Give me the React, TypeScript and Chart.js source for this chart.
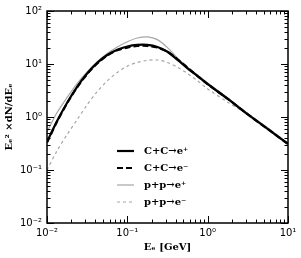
import React, { useEffect, useRef } from "react";
import { Chart, registerables } from "chart.js";

Chart.register(...registerables);

const energies = [0.01, 0.0133, 0.0178, 0.0237, 0.0316, 0.0422, 0.0562, 0.075, 0.1, 0.133, 0.178, 0.237, 0.316, 0.422, 0.562, 0.75, 1, 1.78, 3.16, 5.62, 10];
const ccPositron = [0.34, 0.83, 1.86, 3.72, 6.61, 10.5, 14.8, 18.6, 21.4, 22.9, 22.9, 20.9, 17.0, 12.0, 8.3, 5.9, 4.17, 2.19, 1.12, 0.59, 0.31];
const ccElectron = [0.33, 0.81, 1.82, 3.63, 6.46, 10.2, 14.5, 18.2, 20.4, 21.9, 21.9, 20.4, 17.0, 12.3, 8.5, 5.9, 4.17, 2.2, 1.12, 0.59, 0.31];
const ppPositron = [0.525, 1.2, 2.34, 4.27, 7.08, 11.0, 15.8, 20.9, 26.3, 30.9, 32.4, 28.8, 20.4, 12.9, 8.7, 6.17, 4.37, 2.29, 1.17, 0.62, 0.32];
const ppElectron = [0.1, 0.229, 0.468, 0.89, 1.7, 3.02, 4.79, 6.92, 9.12, 10.7, 11.7, 11.9, 10.7, 8.7, 6.6, 4.79, 3.39, 1.9, 1.12, 0.6, 0.31];

const seriesLabels = ["C+C\u2192e\u207A", "C+C\u2192e\u207B", "p+p\u2192e\u207A", "p+p\u2192e\u207B"];
const xTickValues = [0.01, 0.1, 1, 10];
const xTickLabels = ["10\u207B\u00B2", "10\u207B\u00B9", "10\u2070", "10\u00B9"];
const yTickValues = [0.01, 0.1, 1, 10, 100];
const yTickLabels = ["10\u207B\u00B2", "10\u207B\u00B9", "10\u2070", "10\u00B9", "10\u00B2"];
const xTitle = "E\u2091 [GeV]";
const yTitle = "E\u2091\u00B2 \u00D7dN/dE\u2091";

const GRAY = "#a6a6a6";

const frameTicksPlugin = {
  id: "frameTicks",
  afterDraw(chart: any) {
    const ctx = chart.ctx;
    const { left, right, top, bottom } = chart.chartArea;
    const xs = chart.scales.x;
    const ys = chart.scales.y;
    ctx.save();
    ctx.strokeStyle = "#000";
    ctx.lineWidth = 1.5;
    ctx.strokeRect(left, top, right - left, bottom - top);
    ctx.lineWidth = 1;
    const drawX = (v: number, len: number) => {
      const p = Math.round(xs.getPixelForValue(v)) + 0.5;
      ctx.beginPath();
      ctx.moveTo(p, bottom);
      ctx.lineTo(p, bottom - len);
      ctx.moveTo(p, top);
      ctx.lineTo(p, top + len);
      ctx.stroke();
    };
    const drawY = (v: number, len: number) => {
      const p = Math.round(ys.getPixelForValue(v)) + 0.5;
      ctx.beginPath();
      ctx.moveTo(left, p);
      ctx.lineTo(left + len, p);
      ctx.moveTo(right, p);
      ctx.lineTo(right - len, p);
      ctx.stroke();
    };
    for (let k = -2; k <= 1; k++) {
      const base = Math.pow(10, k);
      drawX(base, 7);
      if (k < 1) for (let m = 2; m <= 9; m++) drawX(base * m, 3.5);
    }
    for (let k = -2; k <= 2; k++) {
      const base = Math.pow(10, k);
      drawY(base, 7);
      if (k < 2) for (let m = 2; m <= 9; m++) drawY(base * m, 3.5);
    }
    // legend
    const datasets = chart.data.datasets;
    const lx0 = 117;
    const lx1 = 134;
    datasets.forEach((ds: any, i: number) => {
      const y = 151 + i * 17;
      ctx.strokeStyle = ds.borderColor;
      ctx.lineWidth = ds.borderWidth;
      ctx.setLineDash(ds.borderDash || []);
      ctx.beginPath();
      ctx.moveTo(lx0, y);
      ctx.lineTo(lx1, y);
      ctx.stroke();
      ctx.setLineDash([]);
      ctx.fillStyle = "#000";
      ctx.font = "bold 10px 'DejaVu Serif'";
      ctx.textAlign = "left";
      ctx.textBaseline = "middle";
      ctx.fillText(ds.label, 144, y);
    });
    ctx.restore();
  },
};

export default function App() {
  const ref = useRef<HTMLCanvasElement | null>(null);
  useEffect(() => {
    if (!ref.current) return;
    const mk = (vals: number[]) => energies.map((e, i) => ({ x: e, y: vals[i] }));
    const common = { pointRadius: 0, tension: 0.3 };
    const chart = new Chart(ref.current, {
      type: "line",
      data: {
        datasets: [
          { label: seriesLabels[0], data: mk(ccPositron), borderColor: "#000", borderWidth: 2.2, ...common },
          { label: seriesLabels[1], data: mk(ccElectron), borderColor: "#000", borderWidth: 2.2, borderDash: [6, 3], ...common },
          { label: seriesLabels[2], data: mk(ppPositron), borderColor: GRAY, borderWidth: 1.2, ...common },
          { label: seriesLabels[3], data: mk(ppElectron), borderColor: GRAY, borderWidth: 1.2, borderDash: [3, 3], ...common },
        ] as any,
      },
      options: {
        animation: false,
        responsive: false,
        maintainAspectRatio: false,
        layout: { padding: { left: 3, right: 13, top: 10, bottom: 5 } },
        plugins: { legend: { display: false }, tooltip: { enabled: false } },
        scales: {
          x: {
            type: "logarithmic",
            min: 0.01,
            max: 10,
            grid: { display: false, drawTicks: false },
            border: { display: false },
            afterBuildTicks: (s: any) => { s.ticks = xTickValues.map((v) => ({ value: v })); },
            afterFit: (s: any) => { s.height = 30; },
            ticks: {
              autoSkip: false,
              maxRotation: 0,
              padding: 4,
              color: "#000",
              font: { family: "'DejaVu Sans'", size: 10 },
              callback: (v: any) => { const i = xTickValues.indexOf(Number(v)); return i >= 0 ? xTickLabels[i] : ""; },
            },
            title: { display: true, text: xTitle, color: "#000", font: { family: "'DejaVu Serif'", size: 10, weight: "bold" }, padding: { top: 2, bottom: 0 } },
          },
          y: {
            type: "logarithmic",
            min: 0.01,
            max: 100,
            grid: { display: false, drawTicks: false },
            border: { display: false },
            afterBuildTicks: (s: any) => { s.ticks = yTickValues.map((v) => ({ value: v })); },
            afterFit: (s: any) => { s.width = 44; },
            ticks: {
              autoSkip: false,
              padding: 5,
              color: "#000",
              font: { family: "'DejaVu Sans'", size: 10 },
              callback: (v: any) => { const i = yTickValues.indexOf(Number(v)); return i >= 0 ? yTickLabels[i] : ""; },
            },
            title: { display: true, text: yTitle, color: "#000", font: { family: "'DejaVu Serif'", size: 10, weight: "bold" }, padding: { top: 0, bottom: 2 } },
          },
        },
      },
      plugins: [frameTicksPlugin],
    });
    return () => chart.destroy();
  }, []);
  return (
    <div style={{ position: "fixed", left: 0, top: 0, width: 301, height: 258, background: "#fff" }}>
      <canvas ref={ref} width={301} height={258} style={{ width: 301, height: 258 }} />
    </div>
  );
}
